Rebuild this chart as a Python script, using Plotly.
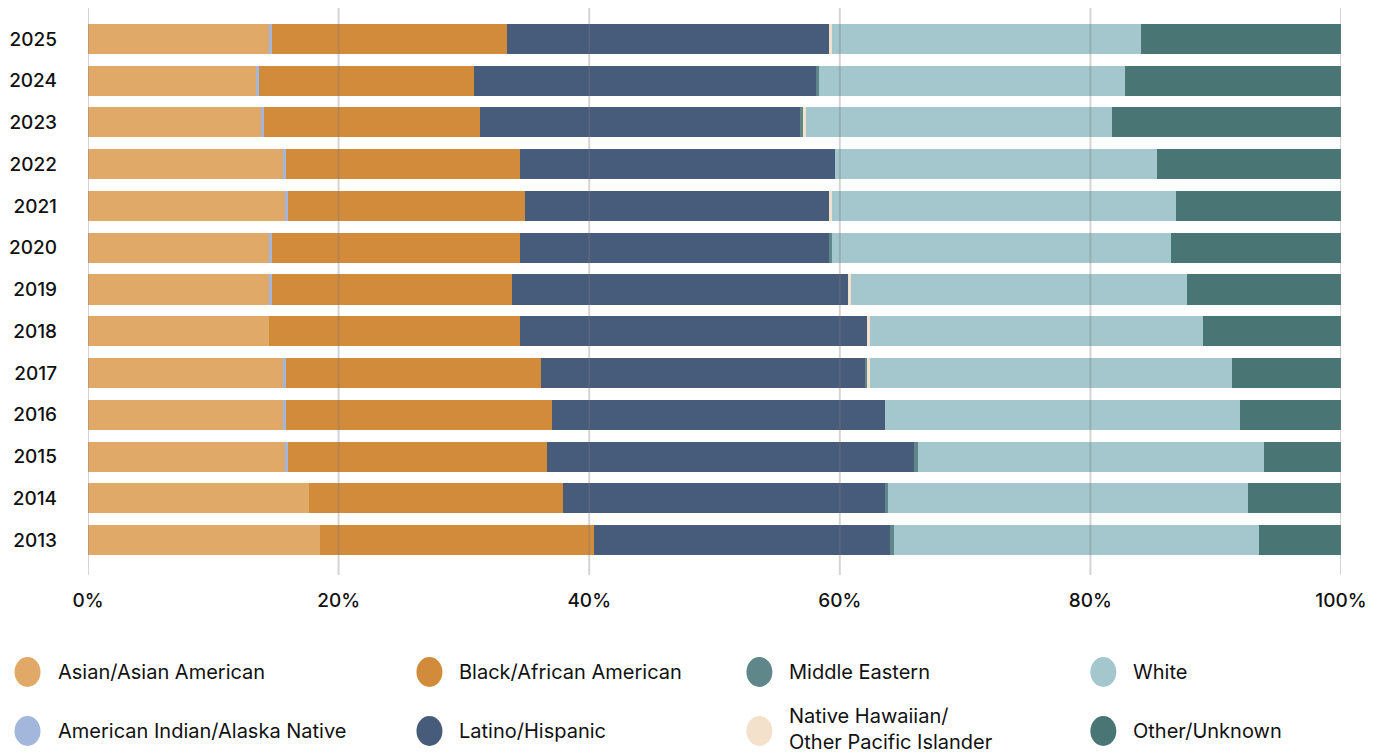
import plotly.graph_objects as go

years = ["2013", "2014", "2015", "2016", "2017", "2018", "2019",
         "2020", "2021", "2022", "2023", "2024", "2025"]

asian = [18.52, 17.64, 15.76, 15.60, 15.60, 14.45, 14.45, 14.45, 15.76, 15.60, 13.81, 13.41, 14.45]
am_indian = [0.0, 0.0, 0.20, 0.20, 0.20, 0.0, 0.24, 0.24, 0.20, 0.20, 0.24, 0.24, 0.24]
black = [21.87, 20.27, 20.67, 21.23, 20.35, 20.03, 19.15, 19.79, 18.91, 18.68, 17.24, 17.16, 18.76]
latino = [23.62, 25.70, 29.29, 26.58, 25.94, 27.69, 26.82, 24.66, 24.26, 25.14, 25.54, 27.29, 25.70]
middle_eastern = [0.32, 0.24, 0.32, 0.0, 0.08, 0.0, 0.0, 0.24, 0.0, 0.0, 0.24, 0.24, 0.0]
native_hawaiian = [0.0, 0.0, 0.0, 0.0, 0.24, 0.24, 0.24, 0.0, 0.24, 0.0, 0.24, 0.0, 0.24]
white = [29.13, 28.73, 27.61, 28.33, 28.89, 26.58, 26.82, 27.06, 27.45, 25.70, 24.42, 24.42, 24.66]
other = [6.54, 7.42, 6.15, 8.06, 8.70, 11.01, 12.29, 13.57, 13.17, 14.68, 18.28, 17.24, 15.96]

series_names = ["Asian/Asian American", "American Indian/Alaska Native",
                "Black/African American", "Latino/Hispanic",
                "Middle Eastern", "Native Hawaiian/<br>Other Pacific Islander",
                "White", "Other/Unknown"]
series_values = [asian, am_indian, black, latino, middle_eastern, native_hawaiian, white, other]
colors = ["#E1A967", "#A3B6DC", "#D28B3A", "#475B7B",
          "#5F8688", "#F3E1CB", "#A3C7CC", "#4A7575"]

x_ticks = [0, 20, 40, 60, 80, 100]
x_ticktext = ["0%", "20%", "40%", "60%", "80%", "100%"]

FONT = "Inter"
OFF = 8  # page body margin
W, H = 1388 - OFF, 754 - OFF
L, T = 87.5 - OFF, 8 - OFF
R = W - (1340.7 - OFF)
B = H - (575 - OFF)
pw = W - L - R
ph = H - T - B

fig = go.Figure()
for name, vals, col in zip(series_names, series_values, colors):
    fig.add_trace(go.Bar(
        y=years, x=vals, orientation="h", name=name.replace("<br>", " "),
        marker=dict(color=col, line=dict(width=0)),
        hovertemplate="%{y}: %{x:.1f}%<extra>" + name.replace("<br>", " ") + "</extra>",
    ))

shapes = []
for v in x_ticks:
    shapes.append(dict(type="line", xref="x", yref="paper", x0=v, x1=v, y0=0, y1=1,
                       line=dict(color="rgba(120,120,120,0.32)", width=2), layer="above"))

# Custom legend (4 columns x 2 rows) with circle swatches (reference pixel coords)
col_circle_px = [27, 429, 759, 1103]
row_px = [672, 731]
def px_to_paper_x(px):
    return (px - OFF - L) / pw
def px_to_paper_y(py):
    return (H - B - (py - OFF)) / ph

annotations = []
for i, (name, col) in enumerate(zip(series_names, colors)):
    c = i // 2
    r = i % 2
    cx = col_circle_px[c]
    cy = row_px[r]
    rx, ry = 13, 15
    shapes.append(dict(type="circle", xref="paper", yref="paper",
                       x0=px_to_paper_x(cx - rx), x1=px_to_paper_x(cx + rx),
                       y0=px_to_paper_y(cy + ry), y1=px_to_paper_y(cy - ry),
                       fillcolor=col, line=dict(width=0), layer="above"))
    ty = cy - 2 if "<br>" in name else cy
    annotations.append(dict(xref="paper", yref="paper",
                            x=px_to_paper_x(cx + 28), y=px_to_paper_y(ty),
                            xanchor="left", yanchor="middle", align="left",
                            text=name, showarrow=False,
                            font=dict(family=FONT, size=20, color="#111111")))

fig.update_layout(
    width=W, height=H,
    barmode="stack", bargap=0.28,
    showlegend=False,
    plot_bgcolor="white", paper_bgcolor="white",
    margin=dict(l=L, r=R, t=T, b=B, autoexpand=False),
    font=dict(family=FONT, color="#111111"),
    shapes=shapes, annotations=annotations,
    xaxis=dict(range=[0, 100], tickvals=x_ticks, ticktext=x_ticktext,
               showgrid=False, zeroline=False, showline=False, ticks="",
               ticklabelstandoff=12,
               tickfont=dict(family=FONT, size=19, color="#111111", weight=500)),
    yaxis=dict(type="category", categoryorder="array", categoryarray=years,
               range=[-0.835, 12.74], showgrid=False, zeroline=False, ticks="",
               ticklabelstandoff=30,
               tickfont=dict(family=FONT, size=19, color="#111111", weight=500)),
)

fig.write_html("out.html")
